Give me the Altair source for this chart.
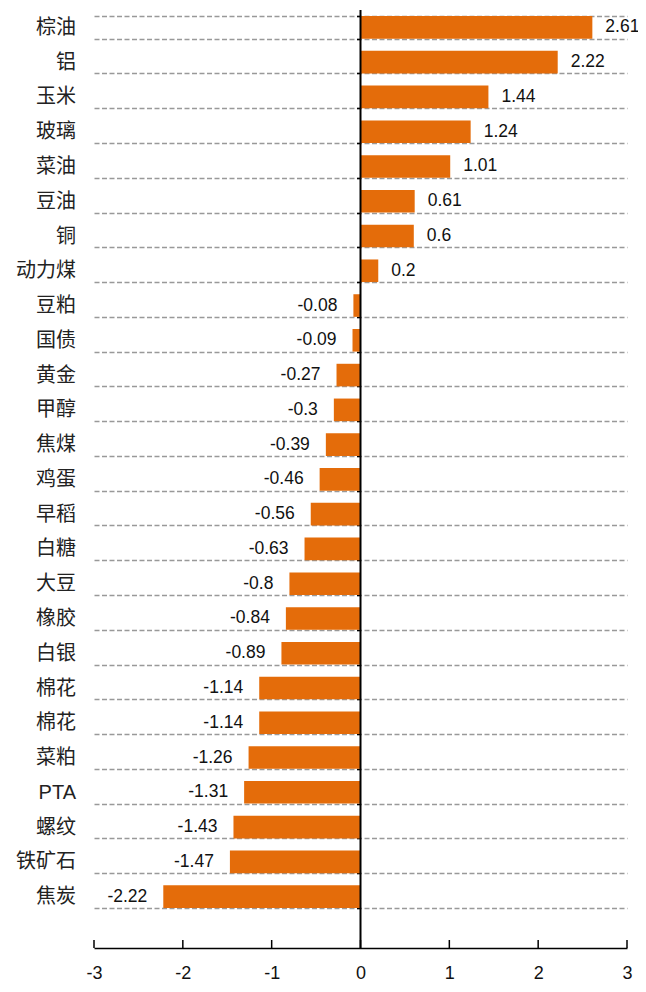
import altair as alt
import pandas as pd

names = ["棕油", "铝", "玉米", "玻璃", "菜油", "豆油", "铜", "动力煤", "豆粕", "国债",
         "黄金", "甲醇", "焦煤", "鸡蛋", "早稻", "白糖", "大豆", "橡胶", "白银", "棉花",
         "棉花", "菜粕", "PTA", "螺纹", "铁矿石", "焦炭"]
values = [2.61, 2.22, 1.44, 1.24, 1.01, 0.61, 0.6, 0.2, -0.08, -0.09,
          -0.27, -0.3, -0.39, -0.46, -0.56, -0.63, -0.8, -0.84, -0.89, -1.14,
          -1.14, -1.26, -1.31, -1.43, -1.47, -2.22]
ticks = [-3, -2, -1, 0, 1, 2, 3]

df = pd.DataFrame({
    "idx": list(range(len(names))),
    "name": names,
    "v": values,
    "label": [f"{v:g}" for v in values],
})

W, H = 533, 904
XOFF = 34
FONT = "Liberation Sans, Arial, Noto Sans CJK SC"
BAR = "#E46C0A"

xscale = alt.Scale(domain=[-3, 3], nice=False, zero=False)
xaxis = alt.Axis(title=None, values=ticks, offset=XOFF, ticks=False,
                 domainColor="black", domainWidth=1.5, labelPadding=16,
                 labelFontSize=18, labelFont=FONT, labelColor="#111",
                 labelExpr="datum.value + ''",
                 labelFlush=False, labelOverlap=False, grid=False)
label_expr = "[" + ",".join(f"'{n}'" for n in names) + "][datum.value]"

yenc = alt.Y(
    "idx:O",
    scale=alt.Scale(paddingInner=0.35, paddingOuter=0.175),
    axis=alt.Axis(
        title=None, offset=-W / 2, labelExpr=label_expr, tickBand="extent",
        grid=True, gridDash=[5, 2.5], gridColor="#999999", gridWidth=1.5,
        domain=False, ticks=True, tickSize=4, tickColor="black", tickWidth=1.5,
        labelPadding=281, labelFontSize=20, labelFont=FONT, labelColor="#222",
    ),
)

bars = alt.Chart(df).mark_bar(color=BAR).encode(
    x=alt.X("v:Q", scale=xscale, axis=xaxis),
    x2=alt.datum(0),
    y=yenc,
)

pos = alt.Chart(df).transform_filter("datum.v >= 0").mark_text(
    align="left", baseline="middle", dx=13, fontSize=17.5, font=FONT, color="#111"
).encode(x=alt.X("v:Q", scale=xscale, axis=xaxis), y=alt.Y("idx:O"), text="label:N")

neg = alt.Chart(df).transform_filter("datum.v < 0").mark_text(
    align="right", baseline="middle", dx=-16, fontSize=17.5, font=FONT, color="#111"
).encode(x=alt.X("v:Q", scale=xscale, axis=xaxis), y=alt.Y("idx:O"), text="label:N")

zero = alt.Chart(pd.DataFrame({"v": [0]})).mark_rule(color="black", strokeWidth=2).encode(
    x=alt.X("v:Q", scale=xscale, axis=xaxis),
    y=alt.value(0),
    y2=alt.value(H + XOFF),
)

xt = alt.Chart(pd.DataFrame({"v": ticks})).mark_rule(color="black", strokeWidth=1.5).encode(
    x=alt.X("v:Q", scale=xscale, axis=xaxis),
    y=alt.value(H + XOFF - 8),
    y2=alt.value(H + XOFF),
)

chart = alt.layer(bars, pos, neg, zero, xt).properties(
    width=W, height=H,
    autosize=alt.AutoSizeParams(type="none"),
    padding={"left": 86, "top": 2, "right": 11, "bottom": 69},
).configure_view(stroke=None)

chart.save("out.html", embed_options={"renderer": "svg", "actions": False})
